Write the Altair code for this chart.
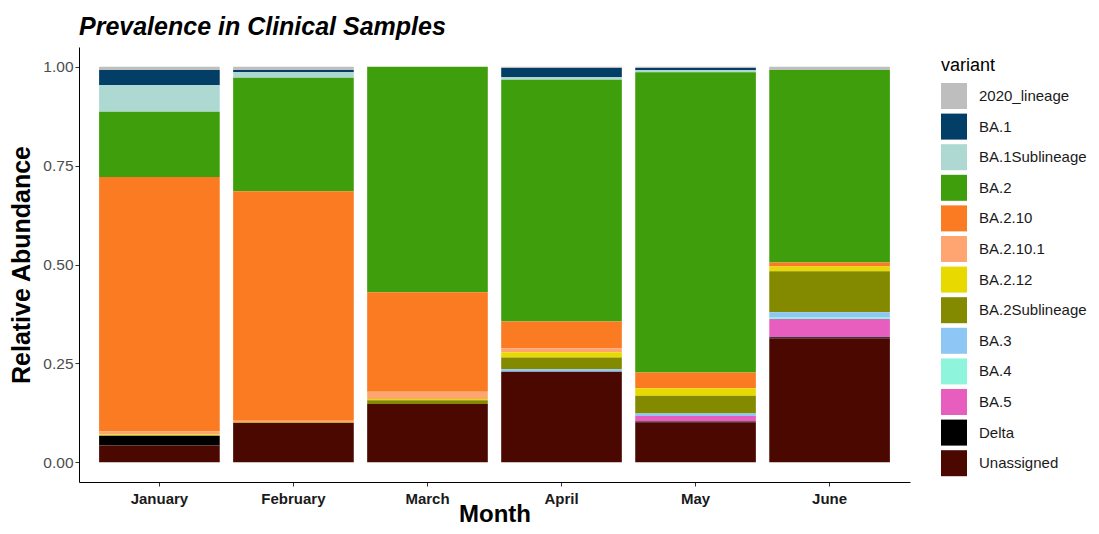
import altair as alt
import pandas as pd

months = ["January", "February", "March", "April", "May", "June"]
variants = ["2020_lineage", "BA.1", "BA.1Sublineage", "BA.2", "BA.2.10", "BA.2.10.1",
            "BA.2.12", "BA.2Sublineage", "BA.3", "BA.4", "BA.5", "Delta", "Unassigned"]
colors = ["#BEBEBE", "#023E66", "#AED9D2", "#3E9E0C", "#FA7B22", "#FFA572",
          "#E8DA00", "#848A00", "#8EC6F5", "#8EF5DC", "#E85EBE", "#000000", "#4A0800"]

# relative abundance per month, one list per variant (Jan..Jun)
v_2020_lineage   = [0.008, 0.008, 0.000, 0.003, 0.003, 0.008]
v_BA1            = [0.038, 0.006, 0.000, 0.023, 0.006, 0.000]
v_BA1Sublineage  = [0.068, 0.014, 0.000, 0.007, 0.005, 0.000]
v_BA2            = [0.165, 0.287, 0.570, 0.611, 0.759, 0.487]
v_BA210          = [0.643, 0.580, 0.252, 0.068, 0.040, 0.010]
v_BA2101         = [0.008, 0.003, 0.018, 0.010, 0.000, 0.000]
v_BA212          = [0.003, 0.002, 0.003, 0.013, 0.019, 0.012]
v_BA2Sublineage  = [0.000, 0.000, 0.010, 0.030, 0.045, 0.104]
v_BA3            = [0.000, 0.000, 0.000, 0.006, 0.006, 0.012]
v_BA4            = [0.000, 0.000, 0.000, 0.000, 0.000, 0.005]
v_BA5            = [0.000, 0.000, 0.000, 0.000, 0.014, 0.046]
v_Delta          = [0.025, 0.000, 0.000, 0.000, 0.002, 0.003]
v_Unassigned     = [0.042, 0.100, 0.147, 0.229, 0.101, 0.313]

series = [v_2020_lineage, v_BA1, v_BA1Sublineage, v_BA2, v_BA210, v_BA2101, v_BA212,
          v_BA2Sublineage, v_BA3, v_BA4, v_BA5, v_Delta, v_Unassigned]

rows = []
for i, (name, vals) in enumerate(zip(variants, series)):
    for m, v in zip(months, vals):
        rows.append({"Month": m, "variant": name, "value": v, "ord": i})
df = pd.DataFrame(rows)

chart = alt.Chart(df).mark_bar().encode(
    x=alt.X("Month:N", sort=months,
            scale=alt.Scale(paddingInner=0.1, paddingOuter=0.15),
            axis=alt.Axis(title="Month", labelAngle=0, labelFontWeight="bold",
                          labelColor="#1a1a1a", labelFontSize=15, labelPadding=5,
                          titleFontSize=24, titleFontWeight="bold", titleColor="#000000",
                          titleBaseline="alphabetic", titleY=39,
                          domainColor="#000000", tickColor="#333333",
                          tickSize=4, ticks=True, grid=False)),
    y=alt.Y("value:Q", stack="zero",
            scale=alt.Scale(domain=[-0.05, 1.05], nice=False, zero=False),
            axis=alt.Axis(title="Relative Abundance", values=[0, 0.25, 0.5, 0.75, 1.0],
                          format=".2f", labelColor="#4D4D4D", labelFontSize=15.5,
                          titleFontSize=25, titleFontWeight="bold", titleColor="#000000",
                          titlePadding=8, domainColor="#000000", tickColor="#333333",
                          tickSize=4, grid=False)),
    color=alt.Color("variant:N", sort=variants,
                    scale=alt.Scale(domain=variants, range=colors),
                    legend=alt.Legend(title="variant", titleFontSize=18,
                                      titleFontWeight="normal", titleColor="#000000",
                                      labelFontSize=15, labelColor="#1a1a1a",
                                      symbolType="square", symbolSize=676,
                                      symbolStrokeWidth=0, symbolOpacity=1,
                                      rowPadding=4.6, labelOffset=12, titlePadding=8,
                                      orient="none", legendX=862, legendY=10)),
    order=alt.Order("ord:Q", sort="descending"),
).properties(
    width=831,
    height=435,
    title=alt.TitleParams("Prevalence in Clinical Samples", anchor="start", frame="group",
                          fontSize=25, fontWeight="bold", fontStyle="italic",
                          color="#000000", offset=7),
    autosize=alt.AutoSizeParams(type="none"),
    padding={"left": 71, "top": 39, "right": 180, "bottom": 44},
).configure(
    font="Liberation Sans"
).configure_view(
    stroke=None
).configure_axis(
    labelFont="Liberation Sans", titleFont="Liberation Sans"
)

chart.save("out.html", embed_options={"renderer": "svg", "actions": False})
